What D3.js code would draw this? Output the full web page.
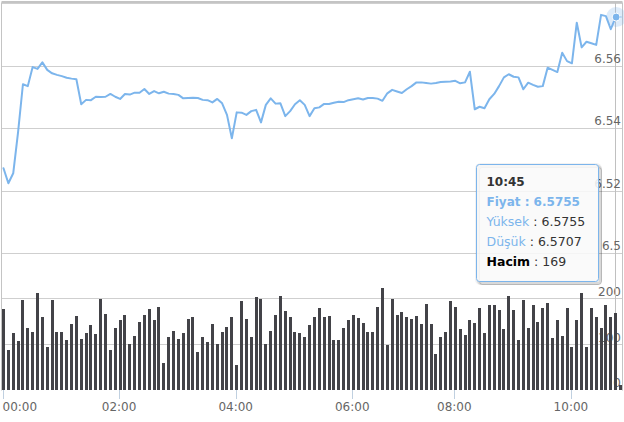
<!DOCTYPE html>
<html>
<head>
<meta charset="utf-8">
<script src="https://cdn.jsdelivr.net/npm/d3@7"></script>
<style>
  html, body { margin: 0; padding: 0; background: #fff; }
  svg { display: block; font-family: "DejaVu Sans", Verdana, sans-serif; }
</style>
</head>
<body>
<svg id="chart" width="624" height="422"></svg>
<script>
// ---- data (5-minute points, ordinal axis) ----
const prices = [
  6.5271, 6.5223, 6.5255, 6.5387, 6.5540, 6.5534, 6.5595, 6.5589, 6.5610, 6.5586,
  6.5575, 6.5570, 6.5566, 6.5561, 6.5558, 6.5556, 6.5476, 6.5490, 6.5489, 6.5500,
  6.5499, 6.5500, 6.5509, 6.5500, 6.5493, 6.5509, 6.5507, 6.5513, 6.5513, 6.5525,
  6.5509, 6.5518, 6.5511, 6.5516, 6.5510, 6.5509, 6.5506, 6.5495, 6.5496, 6.5497,
  6.5496, 6.5490, 6.5489, 6.5482, 6.5493, 6.5479, 6.5442, 6.5367, 6.5450, 6.5449,
  6.5442, 6.5454, 6.5458, 6.5418, 6.5474, 6.5495, 6.5478, 6.5479, 6.5438, 6.5454,
  6.5476, 6.5489, 6.5474, 6.5438, 6.5463, 6.5466, 6.5477, 6.5477, 6.5481, 6.5484,
  6.5483, 6.5489, 6.5492, 6.5495, 6.5491, 6.5496, 6.5496, 6.5494, 6.5487, 6.5511,
  6.5522, 6.5517, 6.5512, 6.5524, 6.5534, 6.5546, 6.5546, 6.5544, 6.5542, 6.5544,
  6.5547, 6.5548, 6.5549, 6.5551, 6.5543, 6.5546, 6.5580, 6.5460, 6.5468, 6.5463,
  6.5492, 6.5509, 6.5534, 6.5562, 6.5572, 6.5564, 6.5562, 6.5524, 6.5545, 6.5538,
  6.5532, 6.5534, 6.5593, 6.5586, 6.5579, 6.5641, 6.5614, 6.5607, 6.5737, 6.5658,
  6.5676, 6.5671, 6.5666, 6.5762, 6.5758, 6.5716, 6.5755, 6.5755
];
const volumes = [
  178, 89, 125, 108, 198, 137, 127, 215, 161, 94,
  199, 127, 127, 110, 145, 164, 113, 125, 144, 123,
  200, 168, 89, 137, 154, 166, 101, 120, 149, 166,
  178, 154, 183, 60, 116, 130, 113, 125, 156, 161,
  84, 117, 105, 145, 101, 127, 139, 161, 55, 196,
  156, 116, 205, 200, 101, 130, 166, 207, 174, 161,
  127, 125, 117, 144, 161, 181, 161, 164, 110, 110,
  137, 154, 166, 159, 147, 127, 127, 183, 225, 99,
  200, 166, 171, 161, 156, 164, 145, 190, 145, 79,
  117, 127, 196, 183, 135, 122, 154, 147, 181, 125,
  188, 188, 176, 135, 207, 176, 111, 198, 137, 188,
  149, 181, 193, 115, 154, 120, 181, 94, 154, 215,
  94, 181, 161, 137, 188, 161, 169, 11
];
const tickIndex  = [0, 24, 48, 72, 93, 117];
const tickLabels = ["00:00", "02:00", "04:00", "06:00", "08:00", "10:00"];
const priceTicks  = [6.5, 6.52, 6.54, 6.56, 6.58];
const volumeTicks = [0, 100, 200, 300];

// tooltip (hovered point)
const hoverIndex = 126;
const hoverTime  = "10:45";
const hoverHigh  = 6.5755;
const hoverLow   = 6.5707;

// ---- layout ----
const svg = d3.select("#chart");
const plotLeft = 1.5, plotRight = 622.5, plotTop = 2.5, plotBottom = 390.5;
const lineColor = "#7cb5ec", barColor = "#434348", gridColor = "#cfcfcf", labelColor = "#666666";

const x = d3.scaleLinear().domain([0, prices.length - 1]).range([3.5, 620.5]);
const yP = d3.scaleLinear().domain([6.5, 6.58]).range([253, 3]);
const yV = d3.scaleLinear().domain([0, 300]).range([390, 254]);

svg.append("rect").attr("width", 624).attr("height", 422).attr("fill", "#fff");

// gridlines
const grid = svg.append("g");
grid.selectAll("line.p").data(priceTicks).join("line")
  .attr("x1", plotLeft).attr("x2", plotRight)
  .attr("y1", d => Math.round(yP(d)) + 0.5).attr("y2", d => Math.round(yP(d)) + 0.5)
  .attr("stroke", gridColor).attr("stroke-width", 1);
grid.selectAll("line.v").data(volumeTicks.slice(1, 3)).join("line")
  .attr("x1", plotLeft).attr("x2", plotRight)
  .attr("y1", d => Math.round(yV(d)) - 0.5).attr("y2", d => Math.round(yV(d)) - 0.5)
  .attr("stroke", gridColor).attr("stroke-width", 1);

// plot border
svg.append("path")
  .attr("d", `M${plotLeft},${plotBottom}V${plotTop}H${plotRight}V${plotBottom}`)
  .attr("fill", "none").attr("stroke", "#c4c4c4").attr("stroke-width", 1);
svg.append("line").attr("x1", plotLeft).attr("x2", plotRight).attr("y1", 1.5).attr("y2", 1.5)
  .attr("stroke", "#c4c4c4");

// volume axis labels (under bars)
svg.append("g").selectAll("text").data(volumeTicks.slice(0, 3)).join("text")
  .attr("x", 621).attr("y", d => yV(d) - 3)
  .attr("text-anchor", "end").attr("font-size", 12).attr("fill", labelColor)
  .text(d => d);

// crosshair
const cx = Math.round(x(hoverIndex)) - 0.5;
svg.append("line").attr("x1", cx).attr("x2", cx).attr("y1", plotTop).attr("y2", 390)
  .attr("stroke", "#c0c0c0").attr("stroke-width", 1);

// volume bars
svg.append("g").selectAll("rect").data(volumes).join("rect")
  .attr("x", (d, i) => Math.round(x(i) - 1.5))
  .attr("width", 3)
  .attr("y", d => Math.round(yV(d)))
  .attr("height", d => 390 - Math.round(yV(d)))
  .attr("fill", barColor);

// price axis labels
svg.append("g").selectAll("text").data(priceTicks.slice(0, 4)).join("text")
  .attr("x", 621).attr("y", d => yP(d) - 3)
  .attr("text-anchor", "end").attr("font-size", 12).attr("fill", labelColor)
  .text(d => String(+d.toFixed(2)));

// price line
const line = d3.line().x((d, i) => x(i)).y(d => yP(d));
svg.append("path").datum(prices)
  .attr("d", line)
  .attr("fill", "none").attr("stroke", lineColor).attr("stroke-width", 2)
  .attr("stroke-linejoin", "round").attr("stroke-linecap", "round");

// x axis ticks and labels
const xa = svg.append("g");
xa.selectAll("line").data(tickIndex).join("line")
  .attr("x1", d => Math.round(x(d)) - 0.5).attr("x2", d => Math.round(x(d)) - 0.5)
  .attr("y1", 390).attr("y2", 399)
  .attr("stroke", "#c0d0e0").attr("stroke-width", 1);
xa.selectAll("text").data(tickIndex).join("text")
  .attr("y", 410.5).attr("font-size", 12).attr("fill", labelColor)
  .text((d, i) => tickLabels[i])
  .each(function (d) {
    const w = this.getComputedTextLength();
    const px = x(d) - 1;
    if (px - w / 2 < 0) { d3.select(this).attr("x", 2.5).attr("text-anchor", "start"); }
    else { d3.select(this).attr("x", px).attr("text-anchor", "middle"); }
  });

// hover marker with halo
const mx = x(hoverIndex) + 0.5, my = yP(prices[hoverIndex]);
svg.append("circle").attr("cx", mx).attr("cy", my).attr("r", 10)
  .attr("fill", lineColor).attr("fill-opacity", 0.25);
svg.append("circle").attr("cx", mx).attr("cy", my).attr("r", 4)
  .attr("fill", lineColor).attr("stroke", "#fff").attr("stroke-width", 1);

// tooltip
const tt = svg.append("g").attr("transform", "translate(476.5,164.5)");
const tw = 122, th = 117;
[3, 2, 1].forEach(k => {
  tt.append("rect").attr("x", k).attr("y", k).attr("width", tw).attr("height", th).attr("rx", 3)
    .attr("fill", "none").attr("stroke", "#000").attr("stroke-opacity", 0.05 * k).attr("stroke-width", 2 * (4 - k) - 1);
});
tt.append("rect").attr("width", tw).attr("height", th).attr("rx", 3)
  .attr("fill", "rgba(249,249,249,0.88)").attr("stroke", lineColor).attr("stroke-width", 1);

const tx = 10;
tt.append("text").attr("x", tx).attr("y", 21).attr("font-size", 12).attr("font-weight", "bold")
  .attr("fill", "#333").text(hoverTime);
tt.append("text").attr("x", tx).attr("y", 41).attr("font-size", 12).attr("font-weight", "bold")
  .attr("fill", lineColor).text("Fiyat : " + prices[hoverIndex].toFixed(4));
const l3 = tt.append("text").attr("x", tx).attr("y", 61).attr("font-size", 12.5);
l3.append("tspan").attr("fill", lineColor).text("Yüksek");
l3.append("tspan").attr("fill", "#333").text(" : " + hoverHigh.toFixed(4));
const l4 = tt.append("text").attr("x", tx).attr("y", 81).attr("font-size", 12.5);
l4.append("tspan").attr("fill", lineColor).text("Düşük");
l4.append("tspan").attr("fill", "#333").text(" : " + hoverLow.toFixed(4));
const l5 = tt.append("text").attr("x", tx).attr("y", 101).attr("font-size", 12.5);
l5.append("tspan").attr("fill", "#000").attr("font-weight", "bold").text("Hacim");
l5.append("tspan").attr("fill", "#333").text(" : " + volumes[hoverIndex]);
</script>
</body>
</html>
